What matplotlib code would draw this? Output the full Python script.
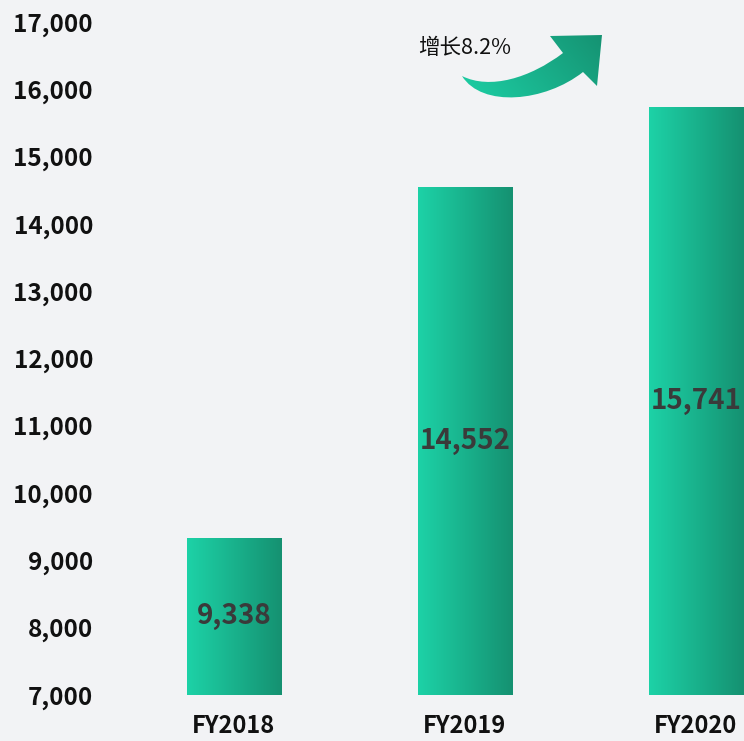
import numpy as np
import matplotlib
matplotlib.use("Agg")
import matplotlib.pyplot as plt
from matplotlib.colors import LinearSegmentedColormap
from matplotlib.path import Path
from matplotlib.patches import PathPatch

# dados
anos = ["FY2018", "FY2019", "FY2020"]
valores = [9338, 14552, 15741]
y_ticks = [7000, 8000, 9000, 10000, 11000, 12000, 13000, 14000, 15000, 16000, 17000]

plt.rcParams['font.family'] = ['Noto Sans CJK SC', 'DejaVu Sans']
fundo = '#f2f3f5'
cmap = LinearSegmentedColormap.from_list("verde", ['#1dd2a7', '#159171'])

fig = plt.figure(figsize=(7.44, 7.41), dpi=100, facecolor=fundo)
ax = fig.add_axes([100/744, 46/741, 644/744, 673/741])
ax.set_facecolor(fundo)

x = np.arange(len(anos))
barras = ax.bar(x, np.array(valores) - 7000, bottom=7000, width=0.407,
                facecolor='none', edgecolor='none')
ax.set_xlim(-0.58, 2.208)
ax.set_ylim(7000, 17000)

# gradiente horizontal nas barras
grad = np.linspace(0, 1, 256).reshape(1, -1)
for b, v in zip(barras, valores):
    x0, w = b.get_x(), b.get_width()
    im = ax.imshow(grad, cmap=cmap, aspect='auto',
                   extent=[x0, x0 + w, 7000, v], zorder=2)
    im.set_clip_path(b)
    ax.text(b.get_x() + w/2, (7000 + v)/2, f"{v:,}", ha='center', va='center',
            fontsize=20, fontweight='bold', color='#3a3a3a', zorder=3)

ax.set_xticks(x)
ax.set_xticklabels(anos, fontsize=17, fontweight='bold', color='#111111')
ax.set_yticks(y_ticks)
ax.set_yticklabels([f"{t:,}" for t in y_ticks], fontsize=17.5, fontweight='bold', color='#111111')
ax.tick_params(axis='both', length=0)
ax.tick_params(axis='x', pad=14)
ax.tick_params(axis='y', pad=5)
for s in ax.spines.values():
    s.set_visible(False)

# seta curva de crescimento (coordenadas em pixels)
ov = fig.add_axes([0, 0, 1, 1])
ov.set_xlim(0, 744)
ov.set_ylim(741, 0)
ov.axis('off')
ov.patch.set_alpha(0)

verts = [(462, 76),
         (482, 108), (545, 102), (583, 72),
         (597, 86), (602, 35), (550, 36), (563, 53),
         (530, 78), (490, 90), (462, 76)]
codes = [Path.MOVETO,
         Path.CURVE4, Path.CURVE4, Path.CURVE4,
         Path.LINETO, Path.LINETO, Path.LINETO, Path.LINETO,
         Path.CURVE4, Path.CURVE4, Path.CURVE4]
seta = PathPatch(Path(verts, codes), facecolor='none', edgecolor='none')
ov.add_patch(seta)
gx, gy = np.meshgrid(np.linspace(0, 1, 200), np.linspace(0, 1, 100))
g2 = np.clip(0.7*gx + 0.3*(1 - gy), 0, 1)
im = ov.imshow(g2, cmap=cmap, aspect='auto', extent=[460, 605, 108, 32])
im.set_clip_path(seta)

crescimento = (valores[2] / valores[1] - 1) * 100
ov.text(465, 48, f"增长{crescimento:.1f}%", ha='center', va='center',
        fontsize=15.5, color='#111111')

fig.savefig("out.png", dpi=100, facecolor=fundo)
